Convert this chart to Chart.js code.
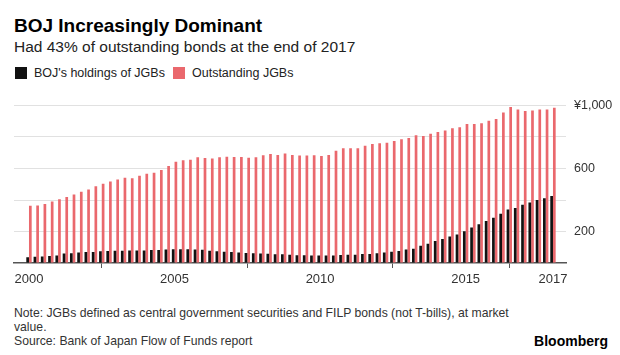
<!DOCTYPE html>
<html><head><meta charset="utf-8">
<script src="https://cdn.jsdelivr.net/npm/chart.js@4/dist/chart.umd.min.js"></script>
<style>
html,body{margin:0;padding:0;background:#fff;}
body{width:620px;height:355px;position:relative;overflow:hidden;font-family:"Liberation Sans",Arial,sans-serif;color:#222;}
.t{position:absolute;white-space:nowrap;}
#title{left:14px;top:15px;font-size:19px;line-height:22px;font-weight:bold;color:#000;}
#sub{left:14px;top:38px;font-size:15.5px;line-height:18px;color:#222;}
.sw{position:absolute;width:12px;height:12px;top:67px;}
.lg{font-size:12.5px;line-height:15px;top:66px;color:#222;}
#foot{left:14px;top:306px;font-size:12.2px;line-height:14px;color:#333;}
#brand{right:12px;top:333px;font-size:14px;line-height:16px;font-weight:bold;color:#000;}
#wrap{position:absolute;left:0;top:90px;width:620px;height:200px;}
</style></head>
<body>
<div class="t" id="title">BOJ Increasingly Dominant</div>
<div class="t" id="sub">Had 43% of outstanding bonds at the end of 2017</div>
<div class="sw" style="left:15px;background:#111;"></div>
<div class="t lg" style="left:34px;">BOJ's holdings of JGBs</div>
<div class="sw" style="left:173px;background:#ea686d;"></div>
<div class="t lg" style="left:192px;">Outstanding JGBs</div>
<div id="wrap"><canvas id="c" width="620" height="200" style="width:620px;height:200px;"></canvas></div>
<div class="t" id="foot">Note: JGBs defined as central government securities and FILP bonds (not T-bills), at market<br>value.<br>Source: Bank of Japan Flow of Funds report</div>
<div class="t" id="brand">Bloomberg</div>
<script>
const quarters = [
 "1999 Q4",
 "2000 Q1","2000 Q2","2000 Q3","2000 Q4","2001 Q1","2001 Q2","2001 Q3","2001 Q4",
 "2002 Q1","2002 Q2","2002 Q3","2002 Q4","2003 Q1","2003 Q2","2003 Q3","2003 Q4",
 "2004 Q1","2004 Q2","2004 Q3","2004 Q4","2005 Q1","2005 Q2","2005 Q3","2005 Q4",
 "2006 Q1","2006 Q2","2006 Q3","2006 Q4","2007 Q1","2007 Q2","2007 Q3","2007 Q4",
 "2008 Q1","2008 Q2","2008 Q3","2008 Q4","2009 Q1","2009 Q2","2009 Q3","2009 Q4",
 "2010 Q1","2010 Q2","2010 Q3","2010 Q4","2011 Q1","2011 Q2","2011 Q3","2011 Q4",
 "2012 Q1","2012 Q2","2012 Q3","2012 Q4","2013 Q1","2013 Q2","2013 Q3","2013 Q4",
 "2014 Q1","2014 Q2","2014 Q3","2014 Q4","2015 Q1","2015 Q2","2015 Q3","2015 Q4",
 "2016 Q1","2016 Q2","2016 Q3","2016 Q4","2017 Q1","2017 Q2","2017 Q3","2017 Q4"
];
const bojHoldings = [
 37,39,41,45,47,60,62,66,70,70,
 74,76,78,78,80,80,80,82,82,86,
 88,88,88,86,84,78,74,72,70,66,
 64,62,60,58,56,55,53,50,49,47,
 47,47,47,51,53,53,57,57,62,66,
 72,76,86,90,109,123,140,152,168,181,
 201,226,246,267,287,312,339,349,370,384,
 400,411,425
];
const outstandingJGBs = [
 363,365,374,390,404,419,435,452,466,487,
 503,517,530,542,538,554,567,573,591,616,
 643,653,655,671,667,663,671,675,673,673,
 669,671,684,692,686,696,686,682,682,684,
 680,686,712,729,729,729,745,756,760,764,
 774,786,794,811,807,821,831,842,856,862,
 883,883,887,903,914,955,990,975,965,969,
 975,975,985
];
const yearTickQuarters = ["1999 Q4","2004 Q4","2009 Q4","2014 Q4","2017 Q4"];
const yearTickLabels = ["2000","2005","2010","2015","2017"];
const yTickValues = [200,600,1000];
const yTickLabels = ["200","600","¥1,000"];

const yearTickIndex = yearTickQuarters.map(q => quarters.indexOf(q));
const toPoints = arr => arr.map((v,i)=>({x:i,y:v}));

new Chart(document.getElementById('c'), {
  type:'bar',
  data:{
    datasets:[
      {label:"BOJ's holdings of JGBs", data:toPoints(bojHoldings), backgroundColor:'#111', categoryPercentage:0.74, barPercentage:1},
      {label:'Outstanding JGBs', data:toPoints(outstandingJGBs), backgroundColor:'#ea686d', categoryPercentage:0.74, barPercentage:1}
    ]
  },
  options:{
    responsive:false, animation:false, devicePixelRatio:1,
    events:[],
    layout:{padding:{left:14,top:11,right:0,bottom:0}},
    plugins:{legend:{display:false}, tooltip:{enabled:false}, title:{display:false}},
    scales:{
      x:{
        type:'linear', min:-2.06, max:73.79, offset:false,
        grid:{drawOnChartArea:false, drawTicks:true, tickLength:5, color:'#555', lineWidth:1},
        border:{display:true, color:'#555', width:1.5},
        afterBuildTicks: s => { s.ticks = yearTickIndex.map(v=>({value:v})); },
        afterFit: s => { s.height = 27; },
        ticks:{autoSkip:false, maxRotation:0, padding:4, color:'#333',
          font:{family:'Liberation Sans', size:13},
          callback:(v)=>{ const k = yearTickIndex.indexOf(v); return k>=0 ? yearTickLabels[k] : ''; }}
      },
      y:{
        position:'right', min:0, max:1000,
        afterBuildTicks: s => { s.ticks = [0,200,400,600,800,1000].map(v=>({value:v})); },
        afterFit: s => { s.width = 54; },
        grid:{drawTicks:false, lineWidth:1, color: c => c.tick && c.tick.value===0 ? 'rgba(0,0,0,0)' : '#e1e1e1'},
        border:{display:false},
        ticks:{padding:8, crossAlign:'near', color:'#333',
          font:{family:'Liberation Sans', size:12.5},
          callback:(v)=>{ const k = yTickValues.indexOf(v); return k>=0 ? yTickLabels[k] : ''; }}
      }
    }
  }
});
</script>
</body></html>
